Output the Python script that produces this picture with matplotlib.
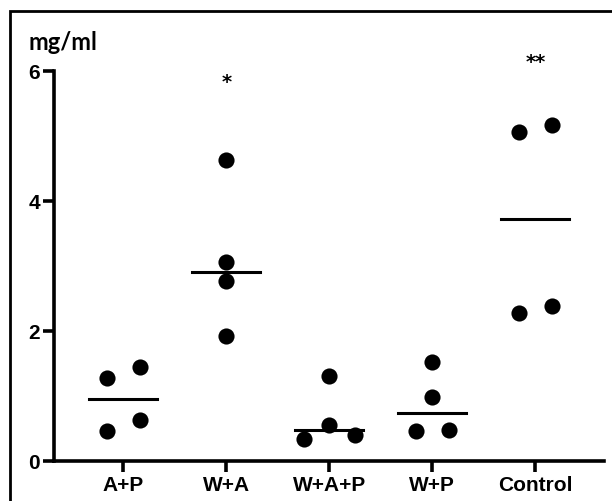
import matplotlib
matplotlib.use("Agg")
import matplotlib.pyplot as plt
from matplotlib.patches import Rectangle
import numpy as np

# Group names on the x axis
groupList = ["A+P", "W+A", "W+A+P", "W+P", "Control"]
valueAP = [1.28, 1.44, 0.45, 0.63]
valueWA = [4.63, 3.05, 2.77, 1.92]
valueWAP = [0.33, 1.30, 0.55, 0.40]
valueWP = [0.45, 1.52, 0.98, 0.48]
valueControl = [5.05, 5.16, 2.27, 2.38]
# Horizontal spread of dots inside each group (category units)
jitterAP = [-0.16, 0.16, -0.16, 0.16]
jitterWA = [0.0, 0.0, 0.0, 0.0]
jitterWAP = [-0.25, 0.0, 0.0, 0.25]
jitterWP = [-0.16, 0.0, 0.0, 0.16]
jitterControl = [-0.16, 0.16, -0.16, 0.16]
# Significance marks
starList = ["", "*", "", "", "**"]
starHeight = [0, 5.84, 0, 0, 6.14]

valueSets = [valueAP, valueWA, valueWAP, valueWP, valueControl]
jitterSets = [jitterAP, jitterWA, jitterWAP, jitterWP, jitterControl]

fig = plt.figure(figsize=(6.12, 5.02), dpi=100)
ax = fig.add_axes([54 / 612, 40.3 / 502, 550 / 612, 390 / 502])

for idx, (vals, jit) in enumerate(zip(valueSets, jitterSets)):
    xs = idx + np.asarray(jit)
    ax.scatter(xs, vals, s=135, color="black", zorder=3, linewidths=0)
    med = float(np.median(vals))
    ax.plot([idx - 0.33, idx + 0.33], [med, med], color="black", lw=2.2, zorder=2)
    if starList[idx]:
        ax.text(idx, starHeight[idx], starList[idx], ha="center", va="center",
                fontsize=14, fontweight="bold", family="DejaVu Sans")

ax.set_xlim(-0.673, 4.667)
ax.set_ylim(0, 6)
ax.set_xticks(range(len(groupList)))
ax.set_xticklabels(groupList)
ax.set_yticks([0, 2, 4, 6])
for sideName in ["top", "right"]:
    ax.spines[sideName].set_visible(False)
for sideName in ["left", "bottom"]:
    ax.spines[sideName].set_linewidth(2.6)
ax.spines["left"].set_bounds(0, 6)
ax.tick_params(axis="both", length=8, width=2.6, pad=2)
for lab in ax.get_xticklabels() + ax.get_yticklabels():
    lab.set_fontfamily("Liberation Sans")
    lab.set_fontweight("bold")
    lab.set_fontsize(15)
ax.set_clip_on(False)

# y unit label in the top-left corner
fig.text(29 / 612, 1 - 42 / 502, "mg/ml", fontsize=17, fontweight="bold",
         family="Lato", ha="left", va="center")

# outer frame that runs past the image edges
fig.patches.append(Rectangle((10 / 612, -0.2), 1.5, 1 - 12 / 502 + 0.2,
                             transform=fig.transFigure, fill=False,
                             edgecolor="black", linewidth=2, clip_on=False))

fig.savefig("out.png", dpi=100)
